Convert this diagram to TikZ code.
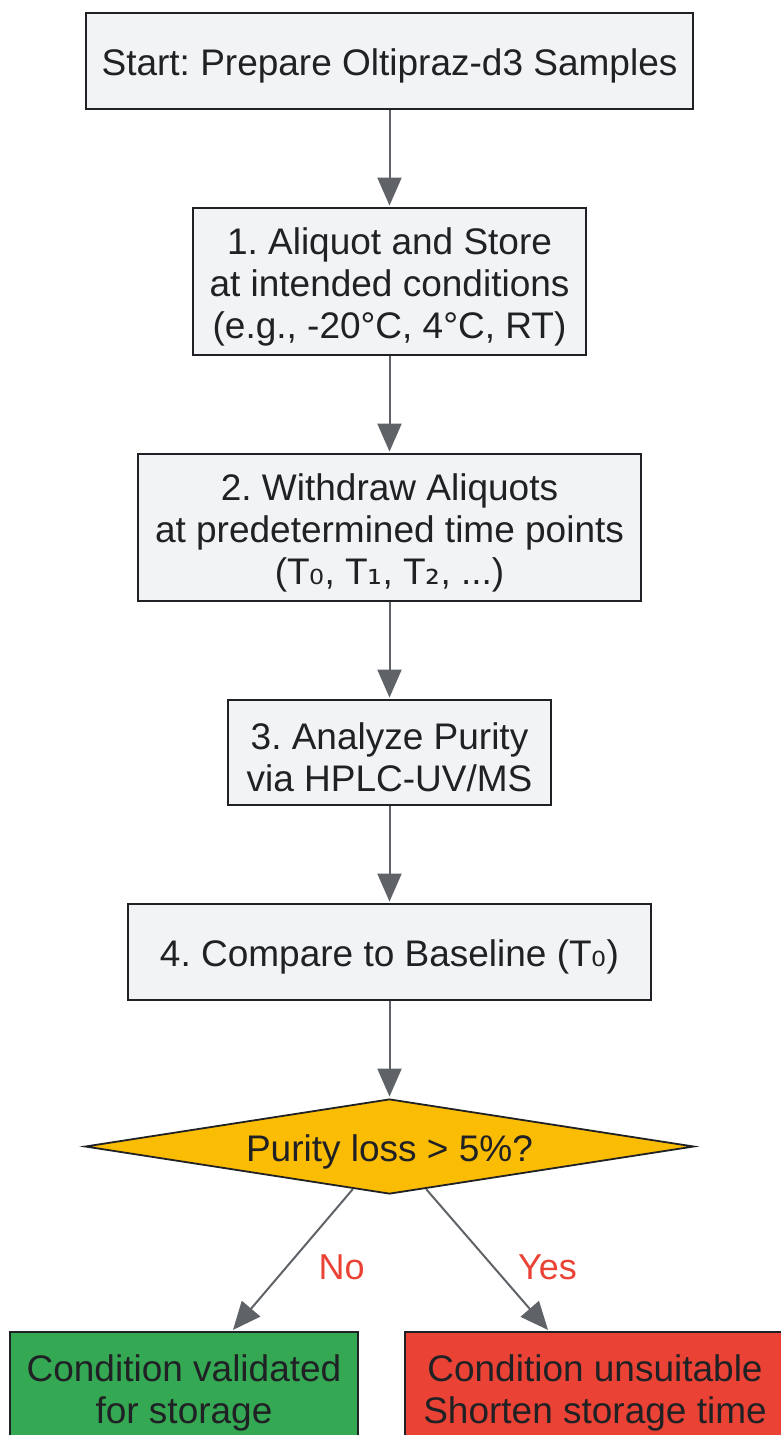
\documentclass[tikz,border=0pt]{standalone}
\usepackage{fontspec}
\setmainfont{Liberation Sans}
\newfontfamily\subfont{DejaVu Sans}
\usetikzlibrary{shapes.geometric,arrows.meta,calc}
\definecolor{boxgray}{HTML}{F1F3F4}
\definecolor{inkdark}{HTML}{202124}
\definecolor{edgegray}{HTML}{5F6368}
\definecolor{gyellow}{HTML}{FBBC04}
\definecolor{ggreen}{HTML}{34A853}
\definecolor{gred}{HTML}{EA4335}
\frenchspacing
\newcommand{\tstrut}{\rule{0pt}{37pt}}

\begin{document}
\begin{tikzpicture}[x=1pt,y=-1pt,shorten >=1.5pt,>={Triangle[length=28pt,width=24pt]}]
    \tikzstyle{stepbox}=[rectangle,draw=inkdark,line width=1.8pt,fill=boxgray,text=inkdark,align=center,inner sep=0pt,font=\fontsize{37}{42}\selectfont]
    \tikzstyle{decision}=[diamond,draw=inkdark,line width=1.8pt,fill=gyellow,text=inkdark,inner sep=0pt,aspect=6.4,minimum width=609pt,minimum height=95pt,font=\fontsize{37}{42}\selectfont]
    \tikzstyle{flow}=[->,draw=edgegray,line width=2pt]
    \tikzstyle{answer}=[text=gred,font=\fontsize{36}{42}\selectfont]
    \useasboundingbox (0,0) rectangle (781,1435);
    \clip (0,0) rectangle (781,1435);

    \node[stepbox,minimum width=607pt,minimum height=96pt] (S-0) at (389.5,61) {\tstrut Start: Prepare Oltipraz-d3 Samples};
    \node[stepbox,minimum width=393pt,minimum height=147pt] (S-1) at (389.5,281.5) {\tstrut 1. Aliquot and Store\\at intended conditions\\(e.g., -20°C, 4°C, RT)};
    \node[stepbox,minimum width=503pt,minimum height=147pt] (S-2) at (389.5,527.5) {\tstrut 2. Withdraw Aliquots\\at predetermined time points\\(T{\subfont ₀}, T{\subfont ₁}, T{\subfont ₂}, ...)};
    \node[stepbox,minimum width=323pt,minimum height=105pt] (S-3) at (389.5,752.5) {\tstrut 3. Analyze Purity\\via HPLC-UV/MS};
    \node[stepbox,minimum width=523pt,minimum height=96pt] (S-4) at (389.5,952) {\tstrut 4. Compare to Baseline (T{\subfont ₀})};
    \node[decision] (D) at (389.5,1146.5) {\tstrut Purity loss > 5\%?};
    \node[stepbox,fill=ggreen,minimum width=348pt,minimum height=112pt] (OK) at (184,1388) {\tstrut Condition validated\\for storage};
    \node[stepbox,fill=gred,minimum width=380pt,minimum height=112pt] (BAD) at (595,1388) {\tstrut Condition unsuitable\\Shorten storage time};

    \foreach \from/\to in {0/1,1/2,2/3,3/4}
        \draw[flow] (S-\from) -- (S-\to);
    \draw[flow] (S-4) -- (D);

    \draw[flow] ($(D.south)!0.12!(D.west)$) -- ([xshift=48pt]OK.north)
        node[answer,pos=0.55,anchor=west,xshift=28pt] {No};
    \draw[flow] ($(D.south)!0.12!(D.east)$) -- ([xshift=-46pt]BAD.north)
        node[answer,pos=0.55,anchor=west,xshift=20pt] {Yes};
\end{tikzpicture}
\end{document}
